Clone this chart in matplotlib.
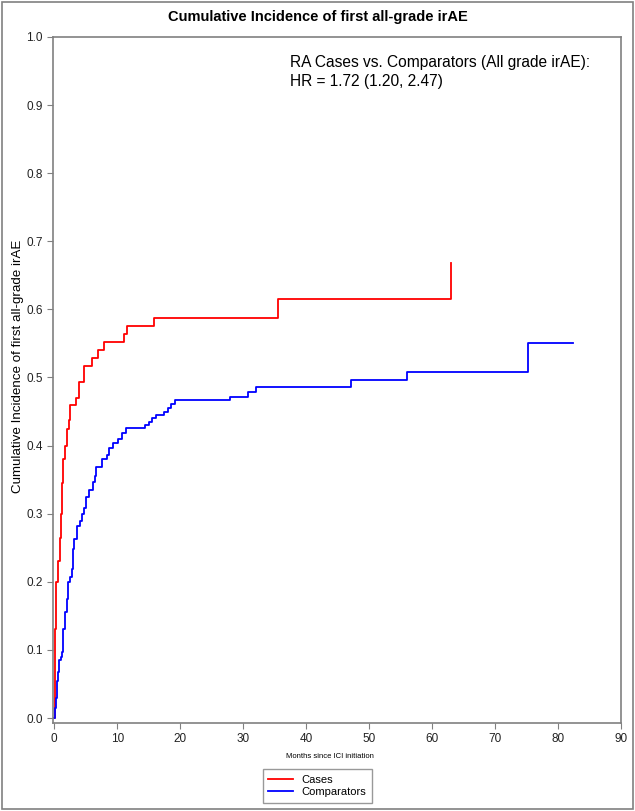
import matplotlib
matplotlib.use('Agg')
import matplotlib.pyplot as plt
from matplotlib.patches import Rectangle

# Cumulative incidence step data (months, incidence)
cases_t = [0, 0.05, 0.1, 0.15, 0.22, 0.3, 0.55, 0.65, 0.85, 1.0, 1.2, 1.4, 1.7,
           2.05, 2.3, 2.5, 3.5, 4.0, 4.75, 6.05, 6.95, 7.95, 11.05, 11.6, 15.8,
           35.5, 63.1]
cases_ci = [0.0, 0.035, 0.07, 0.13, 0.175, 0.2, 0.215, 0.23, 0.265, 0.30, 0.345,
            0.38, 0.40, 0.425, 0.437, 0.46, 0.47, 0.493, 0.517, 0.529, 0.541,
            0.552, 0.564, 0.575, 0.588, 0.615, 0.668]

comp_t = [0, 0.15, 0.25, 0.37, 0.5, 0.63, 0.79, 1.0, 1.27, 1.43, 1.69, 1.96,
          2.22, 2.49, 2.75, 2.91, 3.12, 3.65, 4.07, 4.39, 4.71, 5.03, 5.56,
          6.19, 6.46, 6.67, 7.6, 8.3, 8.7, 9.4, 10.1, 10.7, 11.35, 14.4, 15.1,
          15.6, 16.2, 17.4, 18.0, 18.5, 19.2, 27.9, 30.8, 32.0, 47.2, 56.1,
          75.2, 82.4]
comp_ci = [0.0, 0.014, 0.03, 0.043, 0.055, 0.067, 0.085, 0.09, 0.097, 0.13,
           0.155, 0.175, 0.2, 0.207, 0.219, 0.248, 0.263, 0.282, 0.29, 0.3,
           0.309, 0.324, 0.335, 0.346, 0.356, 0.369, 0.380, 0.386, 0.397,
           0.404, 0.410, 0.419, 0.426, 0.430, 0.434, 0.441, 0.445, 0.450,
           0.455, 0.461, 0.467, 0.471, 0.479, 0.486, 0.497, 0.508, 0.550, 0.550]

x_ticks = list(range(0, 100, 10))
y_ticks = [0.0, 0.1, 0.2, 0.3, 0.4, 0.5, 0.6, 0.7, 0.8, 0.9, 1.0]

plt.rcParams['font.family'] = ['Liberation Sans', 'DejaVu Sans']

fig = plt.figure(figsize=(6.35, 8.11), dpi=100)
ax = fig.add_axes([0.0835, 0.1085, 0.894, 0.846])

ax.plot(cases_t, cases_ci, drawstyle='steps-post', color='#ff0000', lw=1.3, label='Cases')
ax.plot(comp_t, comp_ci, drawstyle='steps-post', color='#0000ff', lw=1.3, label='Comparators')

ax.set_xlim(-0.2, 90.0)
ax.set_ylim(-0.0073, 1.0)
ax.set_xticks(x_ticks)
ax.set_yticks(y_ticks)
ax.set_yticklabels(['%.1f' % v for v in y_ticks])
ax.tick_params(direction='out', length=4, color='#808080', labelsize=8.5, colors='#222222')
for s in ax.spines.values():
    s.set_color('#808080')
    s.set_linewidth(1.2)

ax.set_ylabel('Cumulative Incidence of first all-grade irAE', fontsize=9.6)
ax.yaxis.set_label_coords(-0.052, 0.52)
fig.text(0.52, 0.0666, 'Months since ICI initiation', fontsize=5.5, ha='center', va='center')
fig.text(0.5, 0.979, 'Cumulative Incidence of first all-grade irAE', fontsize=10.5,
         fontweight='bold', ha='center', va='center')

ax.text(0.417, 0.974, 'RA Cases vs. Comparators (All grade irAE):\nHR = 1.72 (1.20, 2.47)',
        transform=ax.transAxes, fontsize=11.2, va='top', ha='left', linespacing=1.35)

leg = fig.legend(loc='center', bbox_to_anchor=(0.5, 0.031), fontsize=8, frameon=True,
                 fancybox=False, edgecolor='#808080', handlelength=2.2, borderpad=0.5,
                 labelspacing=0.2)
leg.get_frame().set_linewidth(1.0)

fig.patches.append(Rectangle((0.003, 0.003), 0.994, 0.994, transform=fig.transFigure,
                             fill=False, edgecolor='#808080', lw=1.2))

plt.savefig('out.png', dpi=100)
